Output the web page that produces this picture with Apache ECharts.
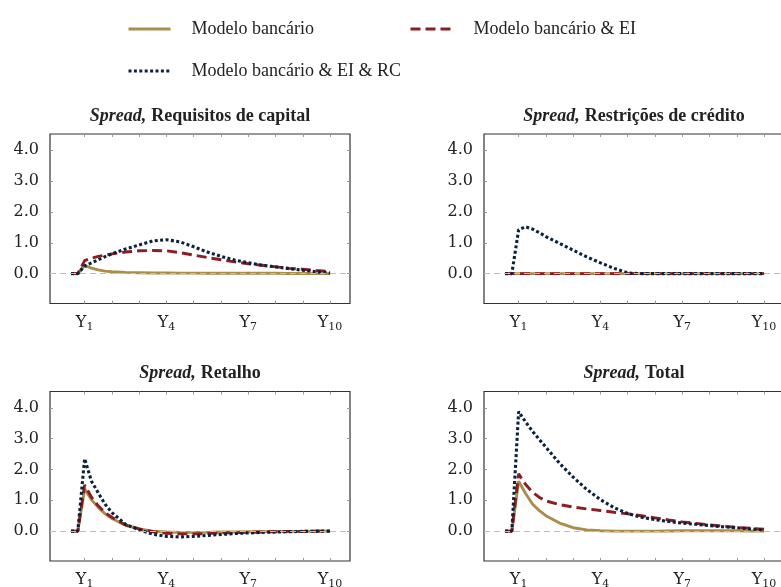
<!DOCTYPE html>
<html>
<head>
<meta charset="utf-8">
<script src="https://cdn.jsdelivr.net/npm/echarts@6/dist/echarts.min.js"></script>
<style>
html,body{margin:0;padding:0;background:#fff;}
#main{width:781px;height:587px;}
</style>
</head>
<body>
<div id="main"></div>
<script>
// ---- data ----
const seriesNames = ['Modelo bancário', 'Modelo bancário & EI', 'Modelo bancário & EI & RC'];
const panelTitles = ['Requisitos de capital', 'Restrições de crédito', 'Retalho', 'Total'];
const xs = [0.5,0.75,1,1.25,1.5,1.75,2,2.5,3,3.5,4,4.5,5,5.5,6,6.5,7,7.5,8,8.5,9,9.5,10];
const xTickLabels = [1,4,7,10];
const xTickValues = [1,2,3,4,5,6,7,8,9,10];
const yTickValues = [0,1,2,3,4];

const capGold = [0,0,0.27,0.18,0.12,0.08,0.06,0.04,0.03,0.02,0.02,0.015,0.015,0.01,0.01,0.01,0.01,0.01,0.01,0.005,0.005,0,0];
const capRed  = [0,0,0.42,0.5,0.56,0.6,0.64,0.7,0.74,0.75,0.74,0.68,0.6,0.52,0.45,0.38,0.32,0.27,0.22,0.17,0.14,0.1,0.07];
const capNavy = [0,0,0.25,0.35,0.45,0.55,0.64,0.8,0.93,1.06,1.1,1.03,0.87,0.7,0.56,0.44,0.35,0.27,0.22,0.16,0.11,0.06,0.02];

const credGold = [0,0,0,0,0,0,0,0,0,0,0,0,0,0,0,0,0,0,0,0,0,0,0];
const credRed  = [0,0,0,0,0,0,0,0,0,0,0,0,0,0,0,0,0,0,0,0,0,0,0];
const credNavy = [0,0,1.42,1.52,1.45,1.33,1.2,0.98,0.76,0.54,0.35,0.17,0.02,0,0,0,0,0,0,0,0,0,0];

const retGold = [0,0,1.37,1.02,0.77,0.56,0.41,0.19,0.07,0,-0.03,-0.04,-0.04,-0.04,-0.03,-0.03,-0.02,-0.02,-0.01,-0.01,-0.01,0,0];
const retRed  = [0,0,1.5,1.1,0.82,0.6,0.45,0.2,0.07,-0.02,-0.07,-0.09,-0.09,-0.08,-0.06,-0.05,-0.04,-0.03,-0.02,-0.01,-0.01,0,0];
const retNavy = [0,0,2.35,1.62,1.24,0.87,0.6,0.22,0.04,-0.1,-0.17,-0.19,-0.17,-0.14,-0.11,-0.08,-0.06,-0.04,-0.03,-0.02,-0.01,0,0];

const totGold = [0,0,1.62,1.23,0.89,0.67,0.5,0.26,0.11,0.04,0.01,0,0,0,0,0.005,0.01,0.01,0.01,0.01,0.01,0.005,0];
const totRed  = [0,0,1.86,1.52,1.27,1.1,0.98,0.86,0.78,0.72,0.67,0.61,0.56,0.5,0.43,0.36,0.3,0.25,0.2,0.16,0.12,0.09,0.06];
const totNavy = [0,0,3.88,3.55,3.25,2.98,2.72,2.2,1.75,1.35,1.02,0.76,0.57,0.45,0.37,0.31,0.26,0.22,0.18,0.14,0.11,0.07,0.04];

const panelData = [
  [capGold, capRed, capNavy],
  [credGold, credRed, credNavy],
  [retGold, retRed, retNavy],
  [totGold, totRed, totNavy]
];

// ---- styles ----
const colors = ['#AA8C4B', '#8C1E23', '#0A233C'];
const lineStyles = [
  {width: 2.9, type: 'solid'},
  {width: 2.9, type: [10, 5], cap: 'butt'},
  {width: 3.1, type: [3, 2.4], cap: 'butt'}
];
const serif = 'Liberation Serif';
const mathFont = 'DejaVu Serif';
const txt = '#222';

const gridPos = [
  {left: 50,  top: 134,   width: 300, height: 169.5},
  {left: 484, top: 134,   width: 300, height: 169.5},
  {left: 50,  top: 391.5, width: 300, height: 169.5},
  {left: 484, top: 391.5, width: 300, height: 169.5}
];
const xMin = -0.27, xMax = 10.73, yMin = -0.97, yMax = 4.53;

const grid = [], xAxis = [], yAxis = [], series = [], title = [];
gridPos.forEach((g, i) => {
  grid.push(Object.assign({show: true, borderColor: '#333', borderWidth: 1.2, backgroundColor: 'transparent', containLabel: false, outerBoundsMode: 'none'}, g));
  const tickStyle = {show: true, inside: true, length: 3, lineStyle: {color: '#999', width: 1}};
  const noLine = {show: false, onZero: false};
  xAxis.push({
    type: 'value', gridIndex: i, position: 'bottom', min: xMin, max: xMax,
    axisLine: noLine, splitLine: {show: false},
    axisTick: Object.assign({customValues: xTickValues}, tickStyle),
    axisLabel: {
      show: true, customValues: xTickLabels, margin: 7,
      formatter: v => '{m|Y}{s|' + v + '}',
      rich: {
        m: {fontFamily: mathFont, fontSize: 16, color: txt, lineHeight: 24, verticalAlign: 'middle'},
        s: {fontFamily: mathFont, fontSize: 11, color: txt, lineHeight: 24, verticalAlign: 'middle', padding: [9, 0, 0, 0]}
      }
    }
  });
  xAxis.push({
    type: 'value', gridIndex: i, position: 'top', min: xMin, max: xMax,
    axisLine: noLine, splitLine: {show: false},
    axisTick: Object.assign({customValues: xTickValues}, tickStyle),
    axisLabel: {show: false}
  });
  yAxis.push({
    type: 'value', gridIndex: i, position: 'left', min: yMin, max: yMax,
    axisLine: noLine, splitLine: {show: false},
    axisTick: Object.assign({customValues: yTickValues}, tickStyle),
    axisLabel: {show: true, customValues: yTickValues, margin: 11, fontFamily: mathFont, fontSize: 16, color: txt,
      formatter: v => v.toFixed(1)}
  });
  yAxis.push({
    type: 'value', gridIndex: i, position: 'right', min: yMin, max: yMax,
    axisLine: noLine, splitLine: {show: false},
    axisTick: Object.assign({customValues: yTickValues}, tickStyle),
    axisLabel: {show: false}
  });

  title.push({
    text: '{i|Spread,} {b|' + panelTitles[i] + '}',
    left: g.left + g.width / 2, top: g.top - 27, textAlign: 'center', padding: 0,
    textStyle: {
      rich: {
        i: {fontFamily: serif, fontStyle: 'italic', fontWeight: 'bold', fontSize: 18, color: txt},
        b: {fontFamily: serif, fontWeight: 'bold', fontSize: 18, color: txt}
      }
    }
  });

  // zero reference line
  series.push({
    type: 'line', name: 'zero' + i, data: [], xAxisIndex: i * 2, yAxisIndex: i * 2, z: 1,
    markLine: {silent: true, symbol: 'none', animation: false, label: {show: false},
      lineStyle: {color: '#bdbdbd', type: [6, 4], width: 1},
      data: [{yAxis: 0}]}
  });

  panelData[i].forEach((ys, k) => {
    series.push({
      type: 'line', name: seriesNames[k], xAxisIndex: i * 2, yAxisIndex: i * 2,
      data: xs.map((x, j) => [x, ys[j]]),
      symbol: 'none', showSymbol: false, smooth: false, z: 2 + k,
      color: colors[k],
      lineStyle: Object.assign({color: colors[k]}, lineStyles[k]),
      animation: false
    });
  });
});

const legendText = {fontFamily: serif, fontSize: 18, color: txt, padding: [0, 0, 0, 16]};
const legendBase = {itemWidth: 42, itemHeight: 14, padding: 0, textStyle: legendText, selectedMode: false,
  itemStyle: {opacity: 0}, lineStyle: {width: 3}};
const legend = [
  Object.assign({data: [seriesNames[0]], left: 127, top: 20}, legendBase),
  Object.assign({data: [seriesNames[1]], left: 409, top: 20}, legendBase),
  Object.assign({data: [seriesNames[2]], left: 127, top: 62}, legendBase)
];

const chart = echarts.init(document.getElementById('main'), null, {renderer: 'canvas'});
chart.setOption({
  animation: false,
  backgroundColor: '#fff',
  title, legend, grid, xAxis, yAxis, series
});
</script>
</body>
</html>
